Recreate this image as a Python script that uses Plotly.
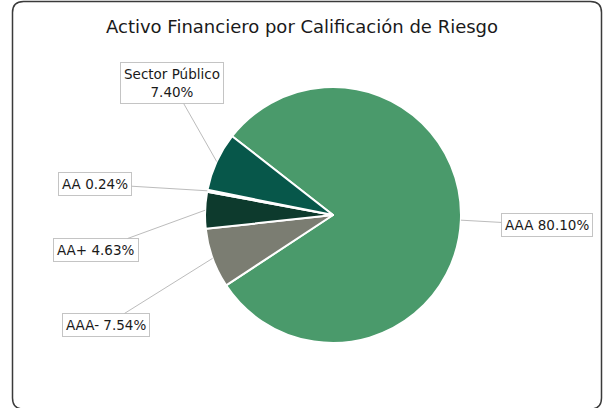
import math
import plotly.graph_objects as go

W, H = 603, 408

# Data
labels = ["AAA", "AAA-", "AA+", "AA", "Sector Público"]
values = [80.10, 7.54, 4.63, 0.24, 7.40]
label_texts = ["AAA 80.10%", "AAA- 7.54%", "AA+ 4.63%", "AA 0.24%", "Sector Público<br>7.40%"]
colors = ["#4a9a6b", "#7b7d72", "#0d3a2d", "#2f6b5a", "#07574a"]

# Layout (pixels)
cx, cy, r = 333, 215, 128
rotation = -52
box_centers = [(547, 225), (106, 325), (96, 250), (95, 184), (172, 83)]

fig = go.Figure()
fig.add_trace(go.Pie(
    labels=labels, values=values, sort=False, direction="clockwise",
    rotation=rotation, textinfo="none", hoverinfo="label+percent",
    marker=dict(colors=colors, line=dict(color="white", width=2)),
    domain=dict(x=[(cx - r) / W, (cx + r) / W], y=[1 - (cy + r) / H, 1 - (cy - r) / H]),
    showlegend=False,
))

total = sum(values)
start = rotation
annotations = []
for v, txt, (bx, by) in zip(values, label_texts, box_centers):
    span = v / total * 360
    mid = math.radians(start + span / 2)
    start += span
    tx = cx + r * math.sin(mid)
    ty = cy - r * math.cos(mid)
    annotations.append(dict(
        x=tx / W, y=1 - ty / H, xref="paper", yref="paper",
        ax=bx - tx, ay=by - ty, axref="pixel", ayref="pixel",
        text=txt, showarrow=True, arrowhead=0, arrowwidth=1, arrowcolor="#bcbcbc",
        font=dict(family="DejaVu Sans", size=13.5, color="#1a1a1a"),
        bgcolor="white", bordercolor="#c4c4c4", borderwidth=1, borderpad=3,
        align="center",
    ))

annotations.append(dict(
    x=302 / W, y=1 - 27 / H, xref="paper", yref="paper", showarrow=False,
    text="Activo Financiero por Calificación de Riesgo",
    font=dict(family="DejaVu Sans", size=18, color="#1a1a1a"),
    xanchor="center", yanchor="middle",
))

# Rounded frame
x0, y0, x1, y1, rr = 12.5 / W, 1 - 1.5 / H, 601.5 / W, 1 - 409 / H, 11
rx, ry = rr / W, rr / H
path = (f"M {x0+rx},{y0} L {x1-rx},{y0} Q {x1},{y0} {x1},{y0-ry} "
        f"L {x1},{y1+ry} Q {x1},{y1} {x1-rx},{y1} L {x0+rx},{y1} "
        f"Q {x0},{y1} {x0},{y1+ry} L {x0},{y0-ry} Q {x0},{y0} {x0+rx},{y0} Z")

fig.update_layout(
    width=W, height=H, margin=dict(l=0, r=0, t=0, b=0),
    paper_bgcolor="white", plot_bgcolor="white",
    annotations=annotations,
    shapes=[dict(type="path", path=path, xref="paper", yref="paper",
                 line=dict(color="#3a3a3a", width=1.5), layer="below")],
)

fig.write_html("out.html", config={"displayModeBar": False},
               post_script="document.body.style.margin='0';document.body.style.overflow='hidden';")
